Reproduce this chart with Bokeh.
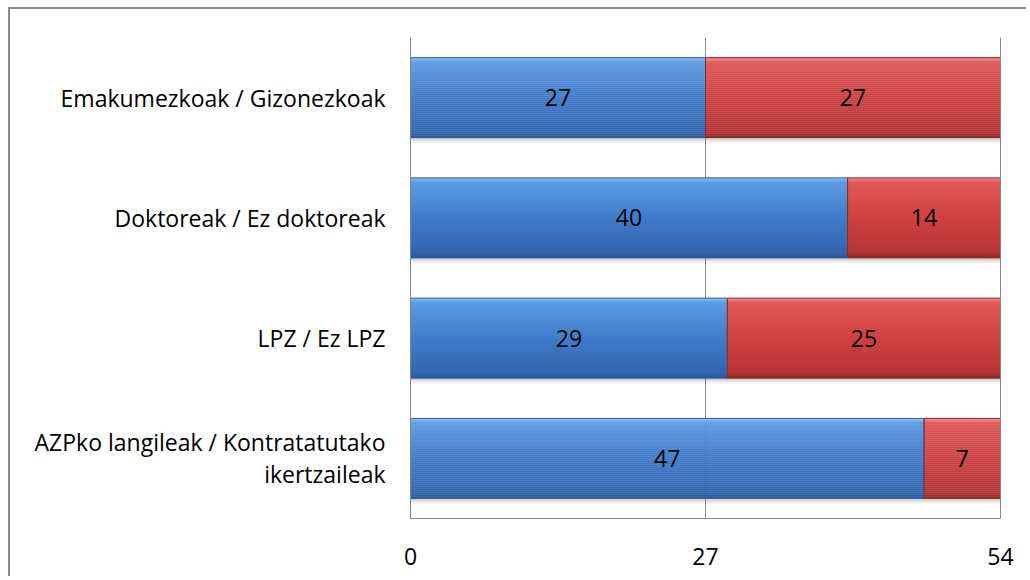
from bokeh.plotting import figure
from bokeh.models import ColumnDataSource, FactorRange, Range1d, FixedTicker, LinearAxis
from bokeh.transform import dodge
from bokeh.embed import file_html
from bokeh.resources import INLINE
from bokeh.core.properties import value

# ---- data ----
categories = ["Emakumezkoak / Gizonezkoak", "Doktoreak / Ez doktoreak", "LPZ / Ez LPZ",
              "AZPko langileak / Kontratatutako\nikertzaileak"]
blue_vals = [27, 40, 29, 47]
red_vals = [27, 14, 25, 7]
x_ticks = [0, 27, 54]

FONT = "Open Sans"
FS = "23px"
GRID = "#868686"

src = ColumnDataSource(dict(
    cat=categories,
    zero=[0] * len(categories),
    blue=blue_vals,
    total=[b + r for b, r in zip(blue_vals, red_vals)],
    blue_mid=[b / 2 for b in blue_vals],
    red_mid=[b + r / 2 for b, r in zip(blue_vals, red_vals)],
    blue_lbl=[str(b) for b in blue_vals],
    red_lbl=[str(r) for r in red_vals],
))

p = figure(width=1018, height=569,
           y_range=FactorRange(*reversed(categories)),
           x_range=Range1d(0, x_ticks[-1]),
           output_backend="svg", toolbar_location=None,
           min_border_left=400, min_border_right=28, min_border_top=28, min_border_bottom=60,
           styles={"margin-left": "8px", "margin-top": "7px",
                   "border-top": "2px solid #8c8c8c", "border-left": "2px solid #8c8c8c"})
p.outline_line_color = None
p.background_fill_color = "white"
p.border_fill_color = "white"

# axes
p.xaxis.ticker = FixedTicker(ticks=x_ticks)
p.xaxis.axis_line_color = GRID
p.xaxis.major_tick_line_color = None
p.xaxis.minor_tick_line_color = None
p.xaxis.major_label_text_font = FONT
p.xaxis.major_label_text_font_size = FS
p.xaxis.major_label_text_color = "black"
p.xaxis.major_label_standoff = 23

p.yaxis.axis_line_color = GRID
p.yaxis.major_tick_line_color = None
p.yaxis.minor_tick_line_color = None
p.yaxis.major_label_text_font = FONT
p.yaxis.major_label_text_font_size = FS
p.yaxis.major_label_text_color = "black"
p.yaxis.major_label_text_line_height = 1.0
p.yaxis.major_label_standoff = 19

# right-hand frame line (the gridline at 54)
right_axis = LinearAxis(ticker=FixedTicker(ticks=[]), axis_line_color=GRID,
                        major_tick_line_color=None, minor_tick_line_color=None,
                        major_label_text_alpha=0)
p.add_layout(right_axis, "right")

p.ygrid.grid_line_color = None
p.xgrid.ticker = FixedTicker(ticks=x_ticks)
p.xgrid.grid_line_color = GRID
p.xgrid.grid_line_width = 1

H = 0.665


def hexrgb(h):
    h = h.lstrip("#")
    return [int(h[i:i + 2], 16) for i in (0, 2, 4)]


def color_at(stops, t):
    for (t0, c0), (t1, c1) in zip(stops, stops[1:]):
        if t0 <= t <= t1:
            f = 0 if t1 == t0 else (t - t0) / (t1 - t0)
            a, b = hexrgb(c0), hexrgb(c1)
            return "#%02x%02x%02x" % tuple(round(a[i] + (b[i] - a[i]) * f) for i in range(3))
    return stops[-1][1]


blue_stops = [(0, "#8cc2f4"), (0.06, "#5c9be3"), (0.5, "#3f7ccb"), (0.93, "#3466b0"), (1.0, "#2a5593")]
red_stops = [(0, "#f49090"), (0.06, "#e05858"), (0.5, "#cf4141"), (0.93, "#b73535"), (1.0, "#8c2626")]

# shadow
for off, a in [(-0.045, 0.10), (-0.03, 0.15), (-0.015, 0.2)]:
    p.hbar(y=dodge("cat", off, range=p.y_range), left="zero", right="total", height=H,
           source=src, fill_color="#7f7f7f", fill_alpha=a, line_color=None)

N = 40
for i in range(N):
    t = (i + 0.5) / N
    off = H / 2 - (i + 0.5) * H / N
    for left, right, stops in [("zero", "blue", blue_stops), ("blue", "total", red_stops)]:
        p.hbar(y=dodge("cat", off, range=p.y_range), left=left, right=right,
               height=H / N * 1.15, source=src, fill_color=color_at(stops, t), line_color=None)

# outlines
p.hbar(y="cat", left="zero", right="blue", height=H, source=src,
       fill_color=None, line_color="#2f5f9e", line_width=1)
p.hbar(y="cat", left="blue", right="total", height=H, source=src,
       fill_color=None, line_color="#8e2a2a", line_width=1)

# value labels
p.text(x="blue_mid", y="cat", text="blue_lbl", source=src, text_align="center",
       text_baseline="middle", text_font=value(FONT), text_font_size=FS, text_color="black")
p.text(x="red_mid", y="cat", text="red_lbl", source=src, text_align="center",
       text_baseline="middle", text_font=value(FONT), text_font_size=FS, text_color="black")

open("out.html", "w").write(file_html(p, INLINE))
